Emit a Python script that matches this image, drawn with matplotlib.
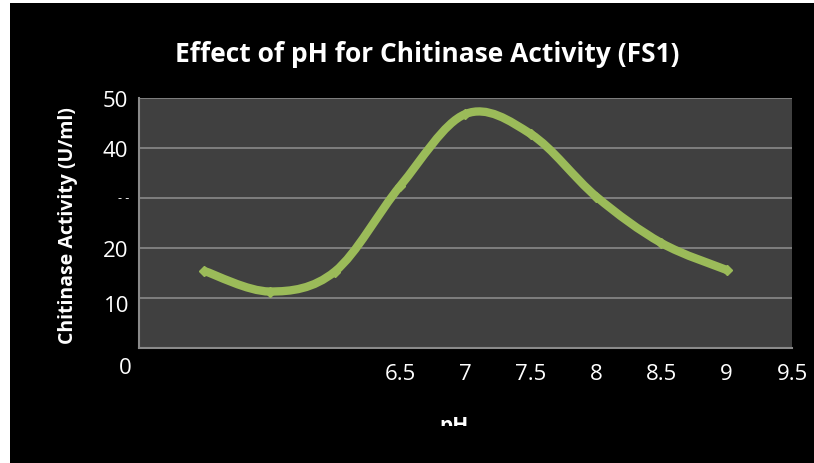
import numpy as np
import matplotlib
matplotlib.use("Agg")
import matplotlib.pyplot as plt
from matplotlib.path import Path
from matplotlib.patches import PathPatch, Rectangle
from matplotlib.transforms import blended_transform_factory

# data
ph = [5.0, 5.5, 6.0, 6.5, 7.0, 7.5, 8.0, 8.5, 9.0]
activity = [15.4, 11.3, 15.3, 32.4, 46.8, 42.8, 30.3, 21.0, 15.6]

x_ticks = [6.5, 7, 7.5, 8, 8.5, 9, 9.5]
x_tick_labels = ["6.5", "7", "7.5", "8", "8.5", "9", "9.5"]
y_ticks = [20, 40, 50]
y_tick_labels = ["20", "40", "50"]

title = "Effect of pH for Chitinase Activity (FS1)"
y_title = "Chitinase Activity (U/ml)"
x_title = "pH"

green = "#9bbb59"
plt.rcParams["font.family"] = ["Open Sans", "DejaVu Sans"]

fig = plt.figure(figsize=(8.14, 4.64), dpi=100)
fig.patch.set_facecolor("white")
# black chart area, white strip on left and top like the screenshot
fig.patches.append(Rectangle((10 / 814, 0), 1, 1 - 4 / 464, transform=fig.transFigure,
                             facecolor="black", edgecolor="none", zorder=-10))

ax = fig.add_axes([139 / 814, (464 - 349) / 464, (792 - 139) / 814, (349 - 99) / 464])
ax.set_facecolor("#404040")
ax.set_xlim(4.5, 9.5)
ax.set_ylim(0, 50)

for y in [10, 20, 30, 40, 50]:
    ax.axhline(y, color="#8a8a8a", lw=1.2, zorder=1)

# smoothed line (Catmull-Rom style bezier, like Excel's smoothed line)
pts = np.column_stack([ph, activity])
n = len(pts)
verts = [pts[0]]
codes = [Path.MOVETO]
for i in range(n - 1):
    p0 = pts[max(i - 1, 0)]
    p1 = pts[i]
    p2 = pts[i + 1]
    p3 = pts[min(i + 2, n - 1)]
    verts += [p1 + (p2 - p0) / 6, p2 - (p3 - p1) / 6, p2]
    codes += [Path.CURVE4] * 3
ax.add_patch(PathPatch(Path(verts, codes), facecolor="none", edgecolor=green,
                       lw=6, capstyle="butt", joinstyle="round", zorder=3))
ax.plot(ph, activity, ls="none", marker="D", ms=5.5, color=green, zorder=4)

for s in ["top", "right"]:
    ax.spines[s].set_visible(False)
for s in ["left", "bottom"]:
    ax.spines[s].set_color("#8a8a8a")
    ax.spines[s].set_linewidth(1.5)

ax.set_xticks(x_ticks)
ax.set_xticklabels(x_tick_labels)
ax.set_yticks(y_ticks)
ax.set_yticklabels(y_tick_labels)
ax.tick_params(axis="both", length=0, colors="white", labelsize=16)
ax.tick_params(axis="x", pad=11)
ax.tick_params(axis="y", pad=8)

# misplaced y labels as in the reference
trans = blended_transform_factory(fig.transFigure, ax.transData)
ax.text(129 / 814, 30, "- -", transform=trans, ha="right", va="center",
        color="white", fontsize=9)
ax.text(129 / 814, 8.4, "10", transform=trans, ha="right", va="center",
        color="white", fontsize=16)
fig.text(125 / 814, 1 - 368 / 464, "0", ha="center", va="center",
         color="white", fontsize=16)

fig.text(427 / 814, 1 - 54 / 464, title, ha="center", va="center",
         color="white", fontsize=19, fontweight="bold")
fig.text(68 / 814, 1 - 226 / 464, y_title, ha="center", va="center",
         rotation=90, color="white", fontsize=14, fontweight="bold")

# axis title cut off at the bottom
xt = fig.text(454 / 814, 1 - 416 / 464, x_title, ha="center", va="top",
              color="white", fontsize=15, fontweight="bold")
clip = Rectangle((0, 1 - 427 / 464), 1, 1, transform=fig.transFigure)
xt.set_clip_path(clip)

fig.savefig("out.png", dpi=100, facecolor=fig.get_facecolor())
